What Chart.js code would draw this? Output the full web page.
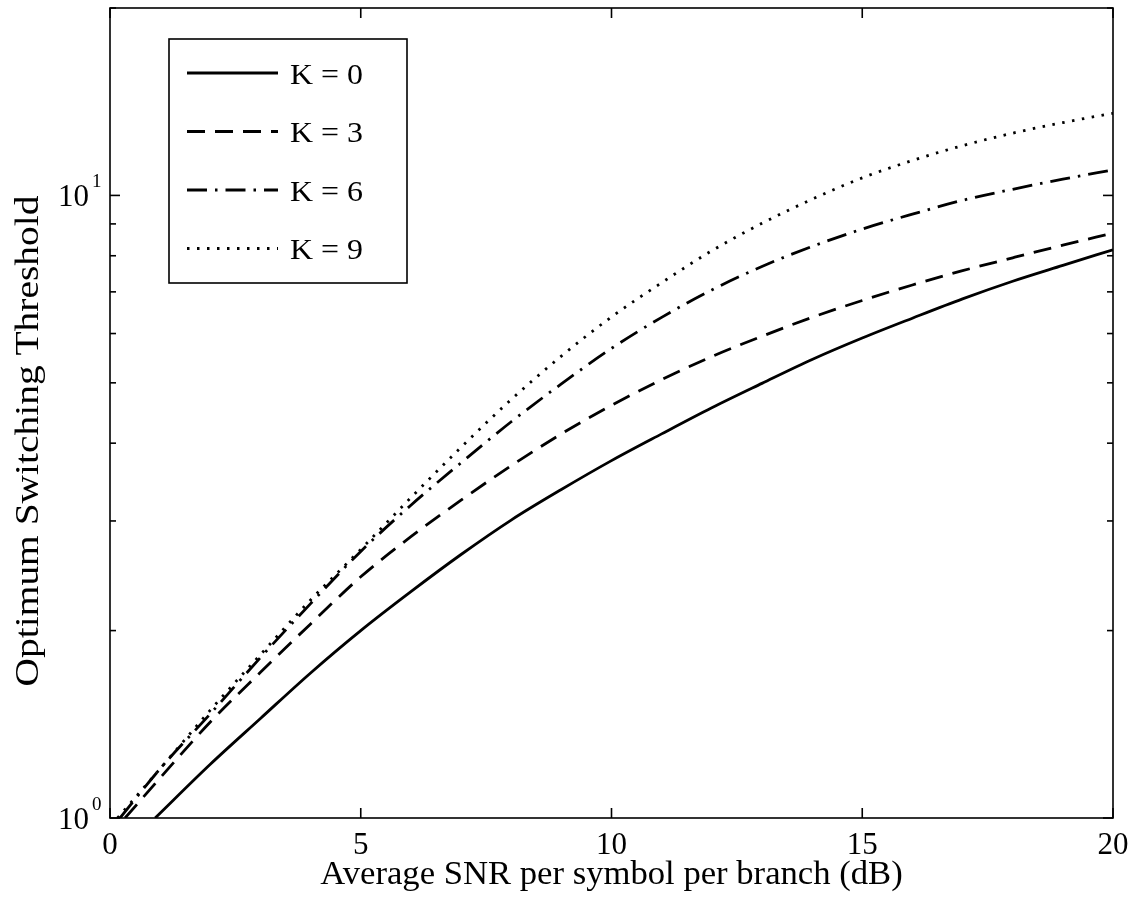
<!DOCTYPE html>
<html>
<head>
<meta charset="utf-8">
<script src="https://cdn.jsdelivr.net/npm/chart.js@4.4.0/dist/chart.umd.min.js"></script>
<style>
    html, body { margin: 0; padding: 0; background: #fff; }
    #wrap { width: 1139px; height: 901px; }
</style>
</head>
<body>
<div id="wrap"><canvas id="myChart" width="1139" height="901"></canvas></div>
<script>
// values
const snrK0 = [0.9, 2, 3, 4, 5, 6, 7, 8, 9, 10, 11, 12, 13, 14, 15, 16, 17, 18, 19, 20];
const thrK0 = [1.0, 1.22, 1.445, 1.71, 2.0, 2.31, 2.65, 3.01, 3.37, 3.75, 4.14, 4.56, 4.99, 5.45, 5.9, 6.35, 6.82, 7.28, 7.72, 8.18];

const snrK3 = [0.3, 1, 2, 3, 4, 5, 6, 7, 8, 9, 10, 11, 12, 13, 14, 15, 16, 17, 18, 19, 20];
const thrK3 = [1.0, 1.16, 1.426, 1.714, 2.05, 2.44, 2.83, 3.24, 3.68, 4.14, 4.6, 5.06, 5.51, 5.94, 6.37, 6.78, 7.18, 7.57, 7.94, 8.32, 8.7];

const snrK6 = [0.2, 1, 2, 3, 4, 5, 6, 7, 8, 9, 10, 11, 12, 13, 14, 15, 16, 17, 18, 19, 20];
const thrK6 = [1.0, 1.2, 1.47, 1.81, 2.21, 2.68, 3.18, 3.72, 4.33, 4.98, 5.68, 6.37, 7.05, 7.69, 8.28, 8.83, 9.33, 9.82, 10.23, 10.62, 10.99];

const snrK9 = [0.15, 1, 2, 3, 4, 5, 6, 7, 8, 9, 10, 11, 12, 13, 14, 15, 16, 17, 18, 19, 20];
const thrK9 = [1.0, 1.2, 1.49, 1.83, 2.24, 2.7, 3.27, 3.94, 4.7, 5.52, 6.38, 7.24, 8.15, 9.02, 9.86, 10.67, 11.38, 12.02, 12.59, 13.09, 13.55];

const seriesLabels = ['K = 0', 'K = 3', 'K = 6', 'K = 9'];
const xTickValues = [0, 5, 10, 15, 20];
const yMajorTicks = [1, 10];
const yMinorTicks = [2, 3, 4, 5, 6, 7, 8, 9, 20];

const serif = '"Liberation Serif", "Times New Roman", serif';

function toPoints(xs, ys) {
    return xs.map((v, i) => ({ x: v, y: ys[i] }));
}

const dashes = [[], [18, 10], [20, 8, 2.5, 8], [2.5, 7.5]];

const datasets = [
    { label: seriesLabels[0], data: toPoints(snrK0, thrK0) },
    { label: seriesLabels[1], data: toPoints(snrK3, thrK3) },
    { label: seriesLabels[2], data: toPoints(snrK6, thrK6) },
    { label: seriesLabels[3], data: toPoints(snrK9, thrK9) }
].map((d, i) => Object.assign(d, {
    borderColor: '#000',
    borderWidth: 2.8,
    borderDash: dashes[i],
    pointRadius: 0,
    fill: false,
    cubicInterpolationMode: 'monotone'
}));

// stretched text, the scanned figure has wider/taller glyphs than plain Times
function stretchedText(ctx, text, x, y, sx) {
    ctx.save();
    ctx.translate(x, y);
    ctx.scale(sx, 1);
    ctx.fillText(text, 0, 0);
    ctx.restore();
}

// matlab style box, inward ticks, labels and legend
const matlabAxes = {
    id: 'matlabAxes',
    afterDraw(chart) {
        const { ctx, chartArea: a, scales: { x, y } } = chart;
        ctx.save();
        ctx.strokeStyle = '#000';
        ctx.fillStyle = '#000';
        ctx.lineWidth = 1.6;
        ctx.setLineDash([]);

        const seg = (x1, y1, x2, y2) => {
            ctx.beginPath();
            ctx.moveTo(x1, y1);
            ctx.lineTo(x2, y2);
            ctx.stroke();
        };

        ctx.strokeRect(a.left, a.top, a.right - a.left, a.bottom - a.top);

        xTickValues.forEach(v => {
            const px = x.getPixelForValue(v);
            seg(px, a.bottom, px, a.bottom - 10);
            seg(px, a.top, px, a.top + 10);
        });
        yMajorTicks.forEach(v => {
            const py = y.getPixelForValue(v);
            seg(a.left, py, a.left + 10, py);
            seg(a.right, py, a.right - 10, py);
        });
        yMinorTicks.forEach(v => {
            const py = y.getPixelForValue(v);
            seg(a.left, py, a.left + 6, py);
            seg(a.right, py, a.right - 6, py);
        });

        // x tick labels
        ctx.font = '31px ' + serif;
        ctx.textAlign = 'center';
        ctx.textBaseline = 'alphabetic';
        xTickValues.forEach(v => {
            ctx.fillText(String(v), x.getPixelForValue(v), 854);
        });

        // y tick labels 10^n
        yMajorTicks.forEach(v => {
            const py = y.getPixelForValue(v);
            ctx.font = '31px ' + serif;
            ctx.textAlign = 'right';
            ctx.fillText('10', 89, py + 11);
            ctx.font = '19px ' + serif;
            ctx.textAlign = 'left';
            ctx.fillText(String(Math.round(Math.log10(v))), 92, py - 8);
        });

        // axis titles
        ctx.font = '33px ' + serif;
        ctx.textAlign = 'center';
        stretchedText(ctx, 'Average SNR per symbol per branch (dB)', (a.left + a.right) / 2, 884, 1.05);
        ctx.save();
        ctx.translate(38, 441);
        ctx.rotate(-Math.PI / 2);
        ctx.font = '34px ' + serif;
        stretchedText(ctx, 'Optimum Switching Threshold', 0, 0, 1.16);
        ctx.restore();

        // legend box
        const lx = 169, ly = 39, lw = 238, lh = 244;
        ctx.fillStyle = '#fff';
        ctx.fillRect(lx, ly, lw, lh);
        ctx.fillStyle = '#000';
        ctx.lineWidth = 1.6;
        ctx.strokeRect(lx, ly, lw, lh);
        ctx.font = '29px ' + serif;
        ctx.textAlign = 'left';
        ctx.textBaseline = 'middle';
        chart.data.datasets.forEach((ds, i) => {
            const rowY = 73 + i * 58.5;
            ctx.lineWidth = ds.borderWidth;
            ctx.setLineDash(ds.borderDash);
            seg(187, rowY, 278, rowY);
            ctx.setLineDash([]);
            stretchedText(ctx, ds.label, 290, rowY + 3, 1.1);
        });
        ctx.restore();
    }
};

const ctx = document.getElementById('myChart').getContext('2d');
new Chart(ctx, {
    type: 'line',
    data: { datasets: datasets },
    options: {
        responsive: false,
        devicePixelRatio: 1,
        animation: false,
        layout: { padding: { left: 102, right: 26, top: 8, bottom: 75 } },
        plugins: { legend: { display: false }, tooltip: { enabled: false } },
        scales: {
            x: {
                type: 'linear', min: 0, max: 20,
                ticks: { display: false },
                grid: { display: false },
                border: { display: false }
            },
            y: {
                type: 'logarithmic', min: 1, max: 20,
                ticks: { display: false },
                grid: { display: false },
                border: { display: false }
            }
        }
    },
    plugins: [matlabAxes]
});
</script>
</body>
</html>
